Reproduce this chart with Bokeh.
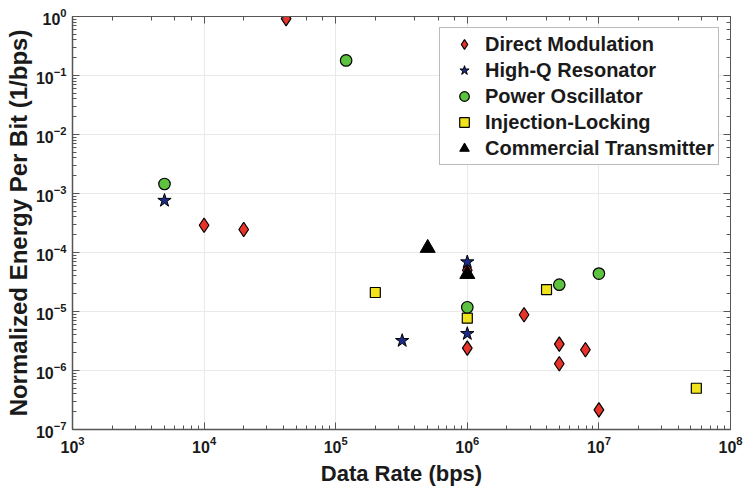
from bokeh.plotting import figure
from bokeh.models import LogAxis, Legend, LegendItem
from bokeh.embed import file_html
from bokeh.resources import INLINE

# Data rate (bps) and normalized energy per bit (1/bps) for each transmitter class
dm_rate = [4.2e4, 1e4, 2e4, 1e6, 1e6, 2.7e6, 5e6, 5e6, 7.9e6, 1e7]
dm_energy = [0.92, 2.9e-4, 2.45e-4, 5.0e-5, 2.4e-6, 8.8e-6, 2.8e-6, 1.3e-6, 2.25e-6, 2.15e-7]

hq_rate = [5e3, 3.2e5, 1e6, 1e6]
hq_energy = [7.6e-4, 3.2e-6, 6.9e-5, 4.2e-6]

po_rate = [5e3, 1.2e5, 1e6, 5e6, 1e7]
po_energy = [1.45e-3, 0.18, 1.18e-5, 2.85e-5, 4.4e-5]

il_rate = [2e5, 1e6, 4e6, 5.5e7]
il_energy = [2.1e-5, 7.7e-6, 2.35e-5, 5.0e-7]

ct_rate = [5e5, 1e6]
ct_energy = [1.19e-4, 4.3e-5]

series_names = ["Direct Modulation", "High-Q Resonator", "Power Oscillator",
                "Injection-Locking", "Commercial Transmitter"]

FONT = "Liberation Sans"
TXT = "#1a1a1a"
AXC = "#555555"

p = figure(
    x_axis_type="log", y_axis_type="log",
    x_range=(1e3, 1e8), y_range=(1e-7, 1e0),
    frame_width=658, frame_height=413,
    min_border_left=72, min_border_right=13, min_border_top=16, min_border_bottom=58,
    output_backend="svg", toolbar_location=None,
    background_fill_color="white", border_fill_color="white",
)
p.outline_line_color = AXC

# markers: draw order chosen so stars sit on top of the 1 Mbps cluster
r_dm = p.scatter(dm_rate, dm_energy, marker="diamond", size=14.5,
                 fill_color="#e8332a", line_color="black", line_width=1.2)
r_il = p.scatter(il_rate, il_energy, marker="square", size=10,
                 fill_color="#f0e31c", line_color="black", line_width=1.2)
r_po = p.scatter(po_rate, po_energy, marker="circle", size=11.5,
                 fill_color="#5cc23f", line_color="black", line_width=1.2)
r_ct = p.scatter(ct_rate, ct_energy, marker="triangle", size=15,
                 fill_color="black", line_color="black", line_width=1)
r_hq = p.scatter(hq_rate, hq_energy, marker="star", size=14,
                 fill_color="#1c2c86", line_color="black", line_width=1)

# axes styling
for ax in (p.xaxis[0], p.yaxis[0]):
    ax.axis_line_color = AXC
    ax.axis_line_width = 1.5
    ax.major_tick_line_color = AXC
    ax.minor_tick_line_color = AXC
    ax.major_tick_in = 7
    ax.major_tick_out = 0
    ax.minor_tick_in = 4
    ax.minor_tick_out = 0
    ax.major_label_text_font = FONT
    ax.major_label_text_font_style = "bold"
    ax.major_label_text_font_size = "16px"
    ax.major_label_text_color = TXT
    ax.axis_label_text_font = FONT
    ax.axis_label_text_font_style = "bold"
    ax.axis_label_text_color = TXT

p.xaxis.axis_label = "Data Rate (bps)"
p.xaxis.axis_label_text_font_size = "22px"
p.xaxis.major_label_standoff = 6
p.xaxis.axis_label_standoff = 5

p.yaxis.axis_label = "Normalized Energy Per Bit (1/bps)"
p.yaxis.axis_label_text_font_size = "24px"
p.yaxis.major_label_standoff = 6
p.yaxis.axis_label_standoff = 1

# box the frame with unlabeled top/right axes carrying inward ticks
for loc in ("above", "right"):
    ax = LogAxis()
    ax.axis_line_color = AXC
    ax.axis_line_width = 1.0
    ax.major_tick_line_color = AXC
    ax.minor_tick_line_color = AXC
    ax.major_tick_in = 7
    ax.major_tick_out = 0
    ax.minor_tick_in = 4
    ax.minor_tick_out = 0
    ax.major_label_text_font_size = "1px"
    ax.major_label_text_color = None
    ax.major_label_standoff = 0
    p.add_layout(ax, loc)

p.xgrid.grid_line_color = "#e9e9e9"
p.ygrid.grid_line_color = "#e9e9e9"
p.xgrid.minor_grid_line_color = None
p.ygrid.minor_grid_line_color = None

legend = Legend(items=[
    LegendItem(label=series_names[0], renderers=[r_dm]),
    LegendItem(label=series_names[1], renderers=[r_hq]),
    LegendItem(label=series_names[2], renderers=[r_po]),
    LegendItem(label=series_names[3], renderers=[r_il]),
    LegendItem(label=series_names[4], renderers=[r_ct]),
], location="top_right")
legend.margin = 11
legend.padding = 4
legend.spacing = 2
legend.glyph_width = 40
legend.glyph_height = 24
legend.label_height = 24
legend.label_standoff = 1
legend.label_text_font = FONT
legend.label_text_font_style = "bold"
legend.label_text_font_size = "20px"
legend.label_text_color = TXT
legend.border_line_color = "#777777"
legend.border_line_width = 1
legend.background_fill_color = "white"
legend.background_fill_alpha = 1.0
p.add_layout(legend, "center")

open("out.html", "w").write(file_html(p, INLINE))
